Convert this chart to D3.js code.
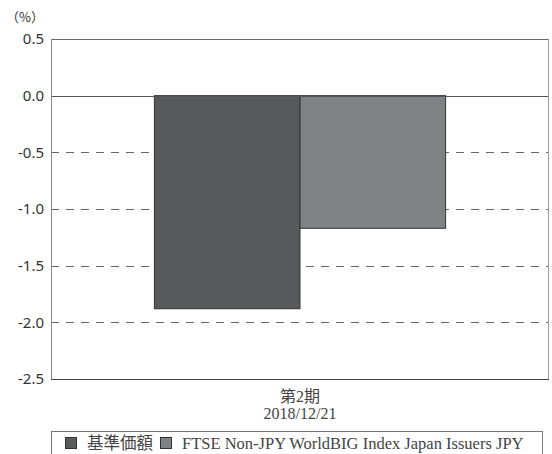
<!DOCTYPE html>
<html>
<head>
<meta charset="utf-8">
<script src="https://cdn.jsdelivr.net/npm/d3@7"></script>
<style>
  body { margin: 0; background: #fff; }
  svg { display: block; }
</style>
</head>
<body>
<svg id="chart" width="552" height="454"></svg>
<script>
// data
var categories = ["第2期\n2018/12/21"];
var seriesNames = ["基準価額", "FTSE Non-JPY WorldBIG Index Japan Issuers JPY"];
var seriesValues = [-1.88, -1.17];
var seriesColors = ["#58595b", "#808184"];
var yTicks = [0.5, 0.0, -0.5, -1.0, -1.5, -2.0, -2.5];

var margin = { left: 51, top: 39, right: 3, bottom: 75 };
var width = 552 - margin.left - margin.right;
var height = 454 - margin.top - margin.bottom;

var svg = d3.select("#chart");
var g = svg.append("g").attr("transform", `translate(${margin.left},${margin.top})`);

var yScale = d3.scaleLinear().domain([-2.5, 0.5]).range([height, 0]);
var xScale = d3.scaleBand().domain(categories).range([0, width]).padding(0.262);
var xSub = d3.scaleBand().domain(seriesNames).range([0, xScale.bandwidth()]);

// dashed grid lines
g.selectAll(".grid")
    .data(yTicks.filter(d => d < 0 && d > -2.5))
    .join("line")
    .attr("x1", 0)
    .attr("x2", width)
    .attr("y1", d => Math.round(yScale(d)) + 0.5)
    .attr("y2", d => Math.round(yScale(d)) + 0.5)
    .attr("stroke", "#666")
    .attr("stroke-dasharray", "8,7");

// bars
g.selectAll(".bar")
    .data(seriesValues)
    .join("rect")
    .attr("x", (d, i) => xScale(categories[0]) + xSub(seriesNames[i]))
    .attr("y", d => yScale(Math.max(0, d)))
    .attr("width", xSub.bandwidth())
    .attr("height", d => Math.abs(yScale(d) - yScale(0)))
    .attr("fill", (d, i) => seriesColors[i])
    .attr("stroke", "#333")
    .attr("stroke-width", 1);

// zero line
g.append("line")
    .attr("x1", 0).attr("x2", width)
    .attr("y1", Math.round(yScale(0)) + 0.5).attr("y2", Math.round(yScale(0)) + 0.5)
    .attr("stroke", "#555");

// frame
g.append("line").attr("x1", 0).attr("x2", width).attr("y1", 0.5).attr("y2", 0.5).attr("stroke", "#666");
g.append("line").attr("x1", 0).attr("x2", width).attr("y1", height + 0.5).attr("y2", height + 0.5).attr("stroke", "#444");
g.append("line").attr("x1", 0.5).attr("x2", 0.5).attr("y1", 0).attr("y2", height).attr("stroke", "#888");
g.append("line").attr("x1", width - 0.5).attr("x2", width - 0.5).attr("y1", 0).attr("y2", height).attr("stroke", "#999");

// y axis labels (hyphen for negatives, like the original)
var yAxis = g.append("g")
    .call(d3.axisLeft(yScale).tickValues(yTicks)
        .tickFormat(d => d.toFixed(1)).tickSize(0).tickPadding(7));
yAxis.select(".domain").remove();
yAxis.selectAll("text")
    .attr("fill", "#333")
    .style("font-family", "'Noto Sans', sans-serif")
    .style("font-size", "15px");

svg.append("text")
    .attr("x", 6).attr("y", 22)
    .attr("fill", "#333")
    .style("font-family", "'Noto Sans CJK JP', sans-serif")
    .style("font-size", "13px")
    .text("（%）");

// category label
var catLabel = g.append("text")
    .attr("text-anchor", "middle")
    .attr("fill", "#444")
    .style("font-family", "'Liberation Serif', 'Noto Sans CJK JP', serif")
    .style("font-size", "16px");
categories[0].split("\n").forEach((line, i) => {
    catLabel.append("tspan")
        .attr("x", xScale(categories[0]) + xScale.bandwidth() / 2)
        .attr("y", height + 23 + i * 17)
        .text(line);
});

// legend
var legend = svg.append("g").attr("transform", "translate(51,431)");
legend.append("rect")
    .attr("x", 0.5).attr("y", 0.5).attr("width", 491).attr("height", 30)
    .attr("fill", "#fff").attr("stroke", "#777");
var legendX = [14, 109];
seriesNames.forEach((name, i) => {
    legend.append("rect")
        .attr("x", legendX[i] + 0.5).attr("y", 6.5)
        .attr("width", 11).attr("height", 11)
        .attr("fill", seriesColors[i]).attr("stroke", "#333");
    legend.append("text")
        .attr("x", legendX[i] + 22).attr("y", 18)
        .attr("fill", "#444")
        .style("font-family", "'Liberation Serif', 'Noto Sans CJK JP', serif")
        .style("font-size", "16.5px")
        .text(name);
});
</script>
</body>
</html>
